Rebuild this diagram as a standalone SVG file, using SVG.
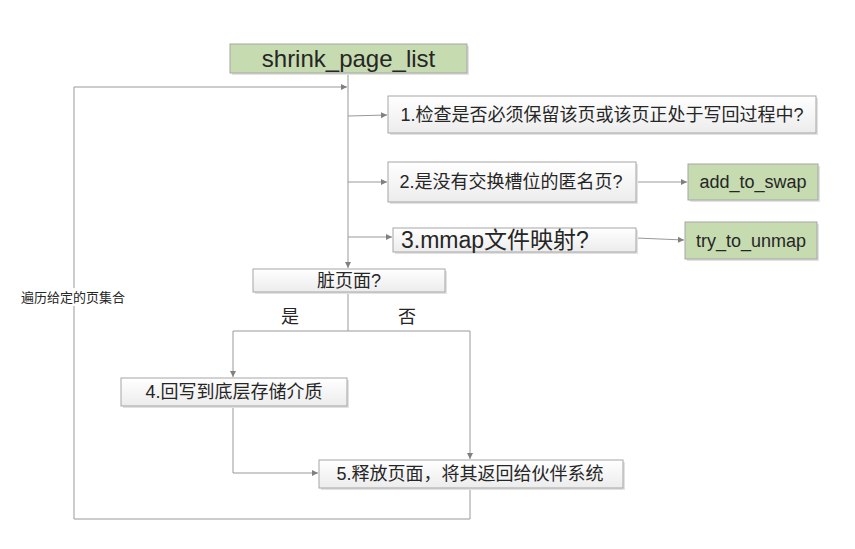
<svg xmlns="http://www.w3.org/2000/svg" width="855" height="549" viewBox="0 0 855 549">
<style>
.box{fill:url(#g);stroke:#a6a6a6;stroke-width:1}
.gbox{fill:#c6dbb0;stroke:#a6a6a6;stroke-width:1}
.sh{fill:#e2e2e2}
.t{font-family:"Liberation Sans","Noto Sans CJK SC",sans-serif;font-size:18px;fill:#262626}
.c{fill:none;stroke:#999;stroke-width:1}
</style>
<defs>
<linearGradient id="g" x1="0" y1="0" x2="0" y2="1"><stop offset="0" stop-color="#ffffff"/><stop offset="1" stop-color="#ececec"/></linearGradient>
<marker id="a" markerWidth="8" markerHeight="8" refX="6" refY="3" orient="auto" markerUnits="userSpaceOnUse"><path d="M0,0 L6,3 L0,6 Z" fill="#808080"/></marker>
</defs>
<rect width="855" height="549" fill="#fff"/>
<g id="connectors">
<path class="c" d="M470,488 V519 H74 V87 H347" marker-end="url(#a)"/>
<path class="c" d="M348,73 V268" marker-end="url(#a)"/>
<path class="c" d="M348,116 L387,115" marker-end="url(#a)"/>
<path class="c" d="M348,182 H387" marker-end="url(#a)"/>
<path class="c" d="M348,237 H392" marker-end="url(#a)"/>
<path class="c" d="M636,182 H687" marker-end="url(#a)"/>
<path class="c" d="M636,238 L684,240" marker-end="url(#a)"/>
<path class="c" d="M348,292 V331 M233,331 H470"/>
<path class="c" d="M233,331 V377" marker-end="url(#a)"/>
<path class="c" d="M470,331 V459" marker-end="url(#a)"/>
<path class="c" d="M233,406 V473 H318" marker-end="url(#a)"/>
</g>
<g id="loop-label">
<rect x="17" y="288" width="112" height="18" fill="#fff"/>
<text class="t" x="73" y="302" text-anchor="middle" style="font-size:13px">遍历给定的页集合</text>
</g>
<g id="shrink_page_list">
<rect class="sh" x="232" y="46" width="237" height="29"/>
<rect class="gbox" x="230" y="44" width="237" height="29"/>
<text class="t" x="348.5" y="67" text-anchor="middle" style="font-size:24px">shrink_page_list</text>
</g>
<g id="check1">
<rect class="sh" x="390" y="98" width="428" height="37"/>
<rect class="box" x="388" y="96" width="428" height="37"/>
<text class="t" x="602" y="121" text-anchor="middle">1.检查是否必须保留该页或该页正处于写回过程中?</text>
</g>
<g id="check2">
<rect class="sh" x="390" y="164" width="248" height="40"/>
<rect class="box" x="388" y="162" width="248" height="40"/>
<text class="t" x="511" y="188" text-anchor="middle">2.是没有交换槽位的匿名页?</text>
</g>
<g id="add_to_swap">
<rect class="sh" x="690" y="166" width="130" height="36"/>
<rect class="gbox" x="688" y="164" width="130" height="36"/>
<text class="t" x="753" y="188" text-anchor="middle">add_to_swap</text>
</g>
<g id="check3">
<rect class="sh" x="395" y="230" width="243" height="24"/>
<rect class="box" x="393" y="228" width="243" height="24"/>
<text class="t" x="401" y="248" style="font-size:23px">3.mmap文件映射?</text>
</g>
<g id="try_to_unmap">
<rect class="sh" x="687" y="224" width="132" height="37"/>
<rect class="gbox" x="685" y="222" width="132" height="37"/>
<text class="t" x="751" y="247" text-anchor="middle">try_to_unmap</text>
</g>
<g id="dirty">
<rect class="sh" x="255" y="271" width="192" height="23"/>
<rect class="box" x="253" y="269" width="192" height="23"/>
<text class="t" x="349" y="287" text-anchor="middle">脏页面?</text>
</g>
<g id="labels">
<text class="t" x="290" y="323" text-anchor="middle">是</text>
<text class="t" x="407" y="323" text-anchor="middle">否</text>
</g>
<g id="writeback">
<rect class="sh" x="123" y="380" width="226" height="28"/>
<rect class="box" x="121" y="378" width="226" height="28"/>
<text class="t" x="234" y="398" text-anchor="middle">4.回写到底层存储介质</text>
</g>
<g id="free">
<rect class="sh" x="321" y="462" width="304" height="28"/>
<rect class="box" x="319" y="460" width="304" height="28"/>
<text class="t" x="470" y="480" text-anchor="middle">5.释放页面，将其返回给伙伴系统</text>
</g>
</svg>
